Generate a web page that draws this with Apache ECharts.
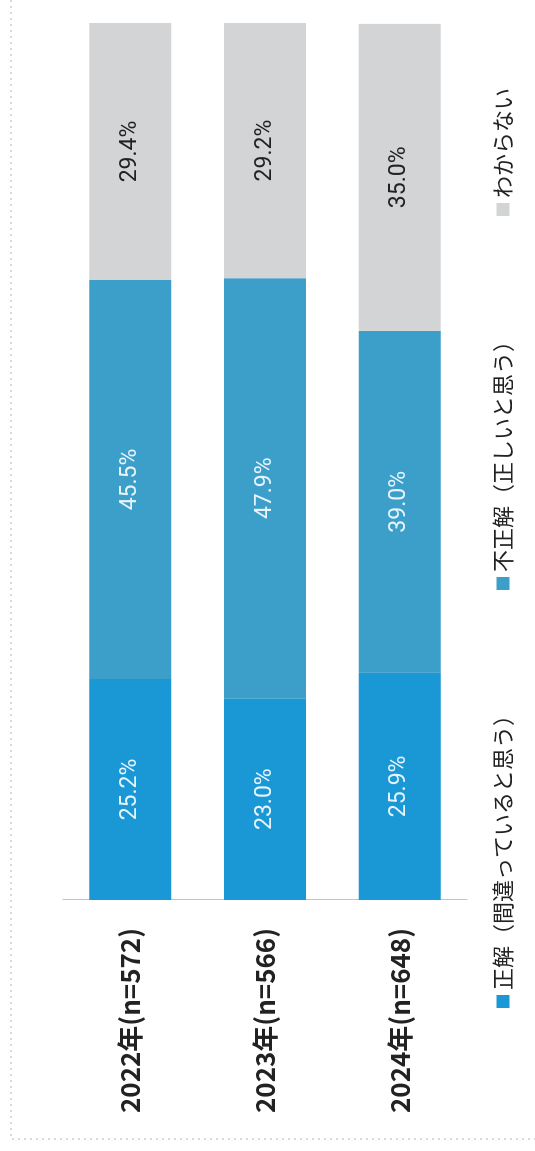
<!DOCTYPE html>
<html>
<head>
<meta charset="utf-8">
<script src="https://cdn.jsdelivr.net/npm/echarts@6/dist/echarts.min.js"></script>
<style>
  html, body { margin: 0; padding: 0; background: #ffffff; overflow: hidden; }
  #wrap { position: absolute; left: 0; top: 0; width: 535px; height: 1151px; overflow: hidden; }
  #chart { position: absolute; left: 0; top: 0; width: 1151px; height: 535px;
           transform-origin: 0 0; transform: translateY(1151px) rotate(-90deg); }
</style>
</head>
<body>
<div id="wrap"><div id="chart"></div></div>
<script>
const categories = ['2022年(n=572)', '2023年(n=566)', '2024年(n=648)'];
const seriesNames = ['正解（間違っていると思う）', '不正解（正しいと思う）', 'わからない'];
const correct = [25.2, 23.0, 25.9];
const incorrect = [45.5, 47.9, 39.0];
const unknown = [29.4, 29.2, 35.0];
const colors = ['#1a98d6', '#3c9fca', '#d3d4d5'];
const labelColors = ['#e8f4fb', '#e8f4fb', '#222222'];

const chart = echarts.init(document.getElementById('chart'), null, { renderer: 'canvas' });

function barSeries(name, data, idx) {
  return {
    name: name,
    type: 'bar',
    stack: 'total',
    data: data,
    barWidth: 82,
    itemStyle: { color: colors[idx] },
    label: {
      show: true,
      position: 'inside',
      color: labelColors[idx],
      fontFamily: 'Roboto',
      fontSize: 23,
      formatter: p => p.value.toFixed(1) + '%'
    },
    emphasis: { disabled: true }
  };
}

chart.setOption({
  animation: false,
  backgroundColor: '#ffffff',
  grid: { left: 251, right: 23, top: 63, bottom: 68 },
  xAxis: { type: 'value', min: 0, max: 100, show: false },
  yAxis: {
    type: 'category',
    inverse: true,
    data: categories,
    axisLine: { show: true, lineStyle: { color: '#c4c4c4', width: 1 } },
    axisTick: { show: false },
    axisLabel: {
      margin: 28,
      fontSize: 26,
      fontWeight: 'bold',
      color: '#222222',
      fontFamily: '"Noto Sans CJK JP", sans-serif'
    }
  },
  legend: {
    orient: 'horizontal',
    left: 138,
    top: 487,
    itemWidth: 13,
    itemHeight: 13,
    itemGap: 114,
    icon: 'rect',
    data: seriesNames,
    textStyle: { fontSize: 22, color: '#222222', fontFamily: '"Noto Sans CJK JP", sans-serif' }
  },
  graphic: [{
    type: 'polyline',
    shape: { points: [[1151, 11], [12, 11], [12, 535]] },
    style: { stroke: '#a9b6c2', lineWidth: 1, lineDash: [2, 4], fill: null },
    silent: true
  }],
  series: [
    barSeries(seriesNames[0], correct, 0),
    barSeries(seriesNames[1], incorrect, 1),
    barSeries(seriesNames[2], unknown, 2)
  ]
});
</script>
</body>
</html>
